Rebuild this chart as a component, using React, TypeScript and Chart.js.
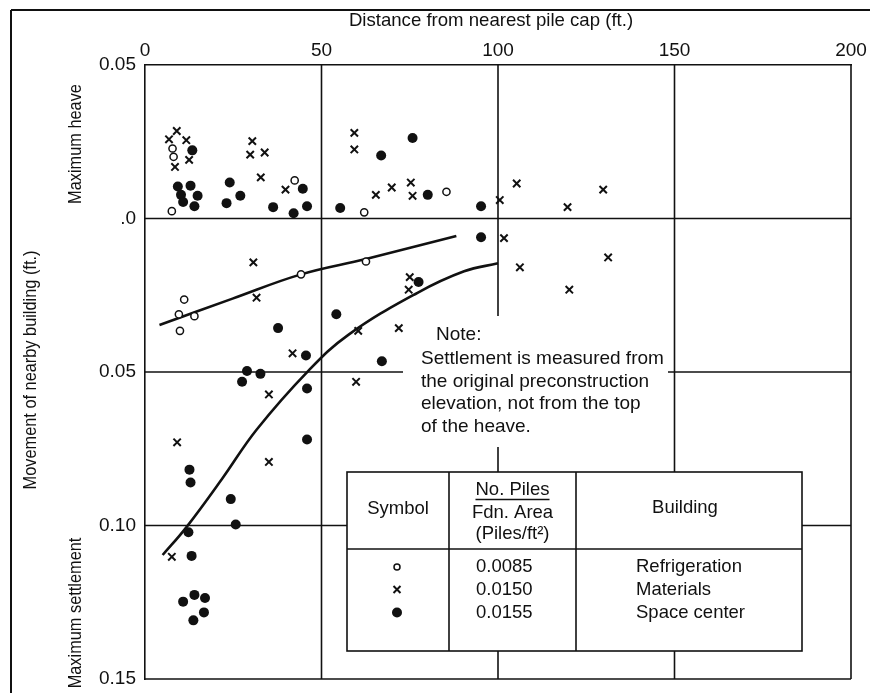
import React, { useEffect, useRef } from 'react';
import { Chart, registerables } from 'chart.js';

Chart.register(...registerables);

// ---------- data (x = distance from nearest pile cap, ft; y = movement, ft; heave +, settlement -) ----------
const xTickValues = [0, 50, 100, 150, 200];
const xTickLabels = ['0', '50', '100', '150', '200'];
const yTickValues = [0.05, 0, -0.05, -0.1, -0.15];
const yTickLabels = ['0.05', '.0', '0.05', '0.10', '0.15'];

const refrigeration: [number, number][] = [
  [7.6, 0.0024], [7.8, 0.0228], [8.1, 0.0201], [42.4, 0.0124], [62.1, 0.002], [85.4, 0.0087],
  [11.1, -0.0264], [9.6, -0.0312], [14.0, -0.0318], [9.9, -0.0366], [44.2, -0.0182], [62.6, -0.014],
];

const materials: [number, number][] = [
  [6.8, 0.0258], [9.0, 0.0285], [11.7, 0.0255], [8.5, 0.0168], [12.5, 0.0191], [30.4, 0.0252],
  [29.8, 0.0208], [33.9, 0.0215], [32.8, 0.0134], [39.8, 0.0094], [59.3, 0.0279], [59.3, 0.0225],
  [65.4, 0.0077], [69.9, 0.0101], [75.3, 0.0117], [75.8, 0.0074], [100.5, 0.006], [105.3, 0.0114],
  [119.7, 0.0037], [129.8, 0.0094],
  [101.7, -0.0064], [106.2, -0.0159], [131.2, -0.0127], [120.2, -0.0232], [30.7, -0.0143],
  [31.6, -0.0258], [41.8, -0.0439], [35.1, -0.0573], [60.4, -0.0366], [59.8, -0.0532],
  [71.9, -0.0357], [75.0, -0.0191], [74.7, -0.0232], [9.1, -0.0729], [35.1, -0.0793], [7.6, -0.1102],
];

const spaceCenter: [number, number][] = [
  [13.4, 0.0222], [9.3, 0.0104], [12.9, 0.0107], [10.2, 0.0077], [10.8, 0.0054], [14.9, 0.0074],
  [14.0, 0.004], [24.0, 0.0117], [23.1, 0.005], [27.0, 0.0074], [36.3, 0.0037], [44.7, 0.0097],
  [42.1, 0.0017], [45.9, 0.004], [55.3, 0.0034], [66.9, 0.0205], [75.8, 0.0262], [80.1, 0.0077],
  [95.2, 0.004],
  [95.2, -0.0061], [37.7, -0.0357], [45.6, -0.0446], [28.9, -0.0497], [32.7, -0.0506], [27.5, -0.0532],
  [45.9, -0.0554], [45.9, -0.072], [54.2, -0.0312], [67.1, -0.0465], [77.5, -0.0207], [12.6, -0.0818],
  [12.9, -0.086], [24.3, -0.0914], [25.7, -0.0997], [12.3, -0.1022], [13.2, -0.1099], [10.8, -0.1248],
  [14.0, -0.1226], [17.0, -0.1236], [16.7, -0.1283], [13.7, -0.1309],
];

const upperCurve: [number, number][] = [
  [4.1, -0.0347], [24.8, -0.0261], [44.2, -0.0182], [62.6, -0.0132], [88.2, -0.0057],
];
const lowerCurve: [number, number][] = [
  [5.0, -0.1096], [11.7, -0.1006], [21.9, -0.0847], [31.6, -0.0688], [46.2, -0.0497],
  [57.6, -0.0379], [77.2, -0.0242], [90.4, -0.0172], [100, -0.0146],
];

const noteLines = [
  'Settlement is measured from',
  'the original preconstruction',
  'elevation, not from the top',
  'of the heave.',
];
const tableSymbols = ['open', 'cross', 'filled'];
const tableRatios = ['0.0085', '0.0150', '0.0155'];
const tableBuildings = ['Refrigeration', 'Materials', 'Space center'];

// ---------- styling ----------
const INK = '#111111';
const FONT = "'Liberation Sans', Arial, sans-serif";

const toXY = (arr: [number, number][]) => arr.map(([x, y]) => ({ x, y }));

const TABLE = { left: 347, top: 472, right: 802, bottom: 651, c1: 449, c2: 576, head: 549 };

const decorPlugin = {
  id: 'decor',
  beforeDatasetsDraw(chart: any) {
    const { ctx, chartArea: a, scales } = chart;
    const xs = scales.x;
    const ys = scales.y;
    ctx.save();
    ctx.strokeStyle = INK;
    ctx.lineWidth = 1.6;
    const seg = (x1: number, y1: number, x2: number, y2: number) => {
      ctx.beginPath();
      ctx.moveTo(x1, y1);
      ctx.lineTo(x2, y2);
      ctx.stroke();
    };
    // plot frame right / bottom
    seg(a.right, a.top, a.right, a.bottom);
    seg(a.left, a.bottom, a.right, a.bottom);
    const y0 = ys.getPixelForValue(0);
    const y05 = ys.getPixelForValue(-0.05);
    const y10 = ys.getPixelForValue(-0.1);
    const x50 = xs.getPixelForValue(50);
    const x100 = xs.getPixelForValue(100);
    const x150 = xs.getPixelForValue(150);
    seg(a.left, y0, a.right, y0);
    seg(a.left, y05, 403, y05);
    seg(668, y05, a.right, y05);
    seg(a.left, y10, TABLE.left, y10);
    seg(TABLE.right, y10, a.right, y10);
    seg(x50, a.top, x50, a.bottom);
    seg(x100, a.top, x100, 316);
    seg(x100, 447, x100, TABLE.top);
    seg(x100, TABLE.bottom, x100, a.bottom);
    seg(x150, a.top, x150, TABLE.top);
    seg(x150, TABLE.bottom, x150, a.bottom);
    ctx.restore();
  },
  afterDraw(chart: any) {
    const { ctx } = chart;
    ctx.save();
    ctx.strokeStyle = INK;
    ctx.fillStyle = INK;
    const seg = (x1: number, y1: number, x2: number, y2: number) => {
      ctx.beginPath();
      ctx.moveTo(x1, y1);
      ctx.lineTo(x2, y2);
      ctx.stroke();
    };
    // outer frame
    ctx.lineWidth = 2;
    seg(11, 10, 870, 10);
    seg(11, 10, 11, 693);

    // axis titles
    ctx.textBaseline = 'middle';
    ctx.textAlign = 'center';
    ctx.font = `18.6px ${FONT}`;
    ctx.fillText('Distance from nearest pile cap (ft.)', 491, 21);

    const vText = (t: string, x: number, y: number) => {
      ctx.save();
      ctx.translate(x, y);
      ctx.rotate(-Math.PI / 2);
      ctx.scale(0.86, 1);
      ctx.fillText(t, 0, 0);
      ctx.restore();
    };
    ctx.font = `19px ${FONT}`;
    vText('Movement of nearby building (ft.)', 31, 370);
    vText('Maximum heave', 76, 144);
    vText('Maximum settlement', 76, 613);

    // note
    ctx.textAlign = 'left';
    ctx.textBaseline = 'alphabetic';
    ctx.font = `19px ${FONT}`;
    ctx.fillText('Note:', 436, 340);
    noteLines.forEach((t, i) => ctx.fillText(t, 421, 364 + i * 22.5));

    // table
    ctx.fillStyle = '#ffffff';
    ctx.fillRect(TABLE.left, TABLE.top, TABLE.right - TABLE.left, TABLE.bottom - TABLE.top);
    ctx.fillStyle = INK;
    ctx.lineWidth = 1.6;
    ctx.strokeRect(TABLE.left, TABLE.top, TABLE.right - TABLE.left, TABLE.bottom - TABLE.top);
    seg(TABLE.c1, TABLE.top, TABLE.c1, TABLE.bottom);
    seg(TABLE.c2, TABLE.top, TABLE.c2, TABLE.bottom);
    seg(TABLE.left, TABLE.head, TABLE.right, TABLE.head);

    ctx.font = `18.5px ${FONT}`;
    ctx.textAlign = 'center';
    ctx.textBaseline = 'middle';
    ctx.fillText('Symbol', (TABLE.left + TABLE.c1) / 2, 509);
    ctx.fillText('Building', 685, 508);
    const cx2 = (TABLE.c1 + TABLE.c2) / 2;
    ctx.fillText('No. Piles', cx2, 490);
    const w = ctx.measureText('No. Piles').width;
    ctx.lineWidth = 1.4;
    seg(cx2 - w / 2, 499.5, cx2 + w / 2, 499.5);
    ctx.fillText('Fdn. Area', cx2, 513);
    ctx.fillText('(Piles/ft²)', cx2, 534);

    const rowsY = [567, 589.5, 612.5];
    ctx.textAlign = 'left';
    tableRatios.forEach((t, i) => ctx.fillText(t, 476, rowsY[i]));
    tableBuildings.forEach((t, i) => ctx.fillText(t, 636, rowsY[i]));
    // symbols
    tableSymbols.forEach((s, i) => {
      const sx = 397;
      const sy = rowsY[i];
      ctx.beginPath();
      if (s === 'open') {
        ctx.lineWidth = 1.5;
        ctx.arc(sx, sy, 3, 0, Math.PI * 2);
        ctx.stroke();
      } else if (s === 'cross') {
        ctx.lineWidth = 2;
        const r = 3.5;
        ctx.moveTo(sx - r, sy - r);
        ctx.lineTo(sx + r, sy + r);
        ctx.moveTo(sx + r, sy - r);
        ctx.lineTo(sx - r, sy + r);
        ctx.stroke();
      } else {
        ctx.arc(sx, sy, 5, 0, Math.PI * 2);
        ctx.fill();
      }
    });
    ctx.restore();
  },
};

export default function App() {
  const ref = useRef<HTMLCanvasElement>(null);
  useEffect(() => {
    const canvas = ref.current;
    if (!canvas) return;
    const chart = new Chart(canvas, {
      type: 'scatter',
      data: {
        datasets: [
          {
            label: 'Refrigeration',
            data: toXY(refrigeration),
            pointStyle: 'circle',
            pointRadius: 3.6,
            borderWidth: 1.5,
            borderColor: INK,
            backgroundColor: '#ffffff',
          },
          {
            label: 'Materials',
            data: toXY(materials),
            pointStyle: 'crossRot',
            pointRadius: 5.2,
            borderWidth: 2,
            borderColor: INK,
            backgroundColor: INK,
          },
          {
            label: 'Space center',
            data: toXY(spaceCenter),
            pointStyle: 'circle',
            pointRadius: 5,
            borderWidth: 0,
            borderColor: INK,
            backgroundColor: INK,
          },
          {
            type: 'line',
            label: 'Upper trend',
            data: toXY(upperCurve),
            showLine: true,
            pointRadius: 0,
            borderWidth: 2.6,
            borderColor: INK,
            fill: false,
            tension: 0.4,
          } as any,
          {
            type: 'line',
            label: 'Lower trend',
            data: toXY(lowerCurve),
            showLine: true,
            pointRadius: 0,
            borderWidth: 2.6,
            borderColor: INK,
            fill: false,
            tension: 0.4,
          } as any,
        ],
      },
      options: {
        animation: false,
        responsive: false,
        devicePixelRatio: 1,
        layout: { padding: { left: 0, top: 0, right: 19, bottom: 14 } },
        plugins: {
          legend: { display: false },
          tooltip: { enabled: false },
        },
        scales: {
          x: {
            type: 'linear',
            position: 'top',
            min: 0,
            max: 200,
            grid: { display: false, drawTicks: false },
            border: { display: true, color: INK, width: 1.6 },
            afterFit: (s: any) => {
              s.height = 65;
              s.paddingLeft = 0;
              s.paddingRight = 0;
            },
            afterBuildTicks: (s: any) => {
              s.ticks = xTickValues.map((v) => ({ value: v }));
            },
            ticks: {
              padding: 3,
              color: INK,
              font: { family: FONT, size: 19 },
              maxRotation: 0,
              callback: (v: any) => xTickLabels[xTickValues.indexOf(Number(v))] ?? String(v),
            },
          },
          y: {
            type: 'linear',
            position: 'left',
            min: -0.15,
            max: 0.05,
            grid: { display: false, drawTicks: false },
            border: { display: true, color: INK, width: 1.6 },
            afterFit: (s: any) => {
              s.width = 145;
              s.paddingTop = 0;
              s.paddingBottom = 0;
            },
            afterBuildTicks: (s: any) => {
              s.ticks = yTickValues.map((v) => ({ value: v }));
            },
            ticks: {
              padding: 9,
              color: INK,
              font: { family: FONT, size: 19 },
              callback: (v: any) => {
                const i = yTickValues.findIndex((t) => Math.abs(t - Number(v)) < 1e-9);
                return i >= 0 ? yTickLabels[i] : String(v);
              },
            },
          },
        },
      },
      plugins: [decorPlugin],
    });
    return () => chart.destroy();
  }, []);
  return (
    <div style={{ position: 'fixed', left: 0, top: 0, width: 870, height: 693, background: '#fff' }}>
      <canvas ref={ref} width={870} height={693} style={{ display: 'block', width: 870, height: 693 }} />
    </div>
  );
}
